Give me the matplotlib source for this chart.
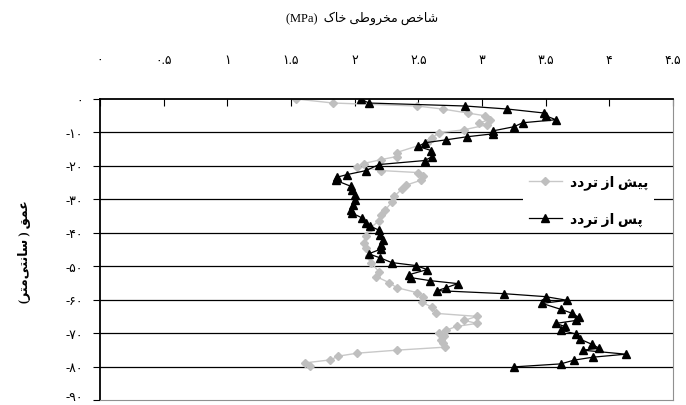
import matplotlib

matplotlib.use("Agg")  # no display
import matplotlib.pyplot as plt

# ---------------------------------------------------------------------------
# Data (cone index in MPa, depth in cm)
# ---------------------------------------------------------------------------

before_x = [1.54, 1.83, 2.49, 2.69, 2.89, 3.02, 3.06, 2.98, 3.04, 2.86,
            2.66, 2.61, 2.57, 2.33, 2.33, 2.21, 2.07, 2.02, 2.21, 2.50,
            2.54, 2.52, 2.40, 2.37, 2.31, 2.29, 2.24, 2.21, 2.19, 2.12,
            2.09, 2.07, 2.09, 2.11, 2.13, 2.19, 2.17, 2.27, 2.33, 2.49,
            2.54, 2.53, 2.61, 2.64, 2.96, 2.86, 2.96, 2.80, 2.72, 2.66,
            2.70, 2.68, 2.69, 2.71, 2.33, 2.02, 1.87, 1.81, 1.61, 1.65]
before_depth = [0.0, -1.2, -2.1, -3.0, -4.2, -5.0, -6.2, -7.1, -7.7, -9.2,
                -10.1, -11.6, -13.1, -16.0, -17.2, -18.1, -19.3, -20.2, -21.4, -22.0,
                -23.1, -24.3, -25.8, -27.0, -29.1, -30.9, -33.2, -34.7, -36.5, -38.6,
                -41.0, -43.0, -44.5, -46.9, -49.0, -51.6, -53.1, -54.9, -56.4, -57.9,
                -59.1, -60.8, -62.3, -64.1, -65.0, -66.2, -67.1, -68.0, -69.1, -70.0,
                -70.9, -72.1, -73.0, -74.2, -75.1, -76.0, -76.9, -78.0, -78.9, -79.8]

after_x = [2.05, 2.11, 2.87, 3.20, 3.49, 3.50, 3.58, 3.32, 3.25, 3.09,
           3.09, 2.88, 2.72, 2.55, 2.50, 2.60, 2.61, 2.55, 2.19, 2.09,
           1.94, 1.86, 1.85, 1.97, 1.98, 2.00, 2.00, 1.99, 1.97, 1.98,
           2.06, 2.09, 2.12, 2.19, 2.20, 2.22, 2.21, 2.21, 2.11, 2.20,
           2.29, 2.48, 2.57, 2.43, 2.44, 2.59, 2.81, 2.72, 2.65, 3.17,
           3.50, 3.67, 3.47, 3.62, 3.71, 3.76, 3.74, 3.58, 3.65, 3.62,
           3.74, 3.77, 3.86, 3.92, 3.79, 4.13, 3.87, 3.72, 3.62, 3.25]
after_depth = [0.0, -1.2, -2.1, -3.0, -4.2, -5.0, -6.2, -7.1, -8.3, -9.5,
               -10.4, -11.3, -12.2, -13.1, -14.2, -15.4, -17.2, -18.4, -19.6, -21.4,
               -22.6, -23.4, -24.3, -26.1, -27.3, -28.8, -30.3, -31.8, -33.2, -34.1,
               -35.6, -37.1, -38.0, -39.2, -40.7, -42.1, -43.6, -44.8, -46.3, -47.5,
               -48.9, -49.8, -51.0, -52.5, -53.4, -54.3, -55.2, -56.4, -57.3, -58.2,
               -59.1, -60.2, -61.1, -62.9, -64.1, -65.3, -66.2, -67.1, -68.0, -69.1,
               -70.3, -71.8, -73.3, -74.5, -75.1, -76.3, -77.2, -78.1, -79.2, -80.1]

x_ticks = [0, 0.5, 1, 1.5, 2, 2.5, 3, 3.5, 4, 4.5]
y_ticks = [0, -10, -20, -30, -40, -50, -60, -70, -80, -90]

title_fa = "شاخص مخروطی خاک"
ylabel_fa = "عمق ( سانتی\u200cمتر)"
label_before = "پیش از تردد"
label_after = "پس از تردد"

# ---------------------------------------------------------------------------
# Minimal Persian shaping (matplotlib does no Arabic joining / RTL)
# ---------------------------------------------------------------------------

# isolated, final, initial, medial  (None = letter does not join forward)
FORMS = {
    "ا": ("\uFE8D", "\uFE8E", None, None),
    "د": ("\uFEA9", "\uFEAA", None, None),
    "ر": ("\uFEAD", "\uFEAE", None, None),
    "ز": ("\uFEAF", "\uFEB0", None, None),
    "و": ("\uFEED", "\uFEEE", None, None),
    "ت": ("\uFE95", "\uFE96", "\uFE97", "\uFE98"),
    "خ": ("\uFEA5", "\uFEA6", "\uFEA7", "\uFEA8"),
    "س": ("\uFEB1", "\uFEB2", "\uFEB3", "\uFEB4"),
    "ش": ("\uFEB5", "\uFEB6", "\uFEB7", "\uFEB8"),
    "ص": ("\uFEB9", "\uFEBA", "\uFEBB", "\uFEBC"),
    "ط": ("\uFEC1", "\uFEC2", "\uFEC3", "\uFEC4"),
    "ع": ("\uFEC9", "\uFECA", "\uFECB", "\uFECC"),
    "ق": ("\uFED5", "\uFED6", "\uFED7", "\uFED8"),
    "م": ("\uFEE1", "\uFEE2", "\uFEE3", "\uFEE4"),
    "ن": ("\uFEE5", "\uFEE6", "\uFEE7", "\uFEE8"),
    "پ": ("\uFB56", "\uFB57", "\uFB58", "\uFB59"),
    "ک": ("\uFB8E", "\uFB8F", "\uFB90", "\uFB91"),
    "ی": ("\uFBFC", "\uFBFD", "\uFBFE", "\uFBFF"),
}


def shape(text):
    out = []
    for i, ch in enumerate(text):
        if ch not in FORMS:
            if ch != "\u200c":
                out.append(ch)
            continue
        prev = text[i - 1] if i > 0 else None
        nxt = text[i + 1] if i + 1 < len(text) else None
        iso, fin, ini, med = FORMS[ch]
        join_prev = prev in FORMS and FORMS[prev][2] is not None
        join_next = ini is not None and nxt in FORMS
        if join_prev and join_next:
            out.append(med)
        elif join_prev:
            out.append(fin)
        elif join_next:
            out.append(ini)
        else:
            out.append(iso)
    mirror = {"(": ")", ")": "("}
    return "".join(mirror.get(c, c) for c in reversed(out))


def fa_num(v):
    return ("%g" % v).translate(str.maketrans("0123456789", "۰۱۲۳۴۵۶۷۸۹"))


FONT = ["Liberation Serif", "DejaVu Sans"]
plt.rcParams["font.family"] = FONT

# ---------------------------------------------------------------------------
# Figure
# ---------------------------------------------------------------------------

fig = plt.figure(figsize=(6.86, 4.06), dpi=100)
ax = fig.add_axes([100 / 686, 1 - 401 / 406, 573 / 686, 301 / 406])

for y in y_ticks[1:-1]:
    ax.axhline(y, color="black", linewidth=0.9, zorder=1)

ax.plot(before_x, before_depth, color="#c8c8c8", linewidth=1.0,
        marker="D", markersize=4.5, markerfacecolor="#bfbfbf",
        markeredgecolor="#bfbfbf", label=shape(label_before), zorder=2)
ax.plot(after_x, after_depth, color="black", linewidth=0.9,
        marker="^", markersize=6, markerfacecolor="black",
        markeredgecolor="black", label=shape(label_after), zorder=3)

ax.set_xlim(0, 4.5)
ax.set_ylim(-90, 0)

ax.xaxis.tick_top()
ax.set_xticks(x_ticks)
ax.set_xticklabels([fa_num(v) for v in x_ticks], fontsize=9)
ax.tick_params(axis="x", direction="in", length=5, pad=24, width=0.8)

# last label (-90) sits on the bottom edge: drawn separately, a bit higher
ax.set_yticks(y_ticks)
ax.set_yticklabels([fa_num(v) for v in y_ticks[:-1]] + [""], fontsize=9)
ax.tick_params(axis="y", direction="out", length=5, pad=7, width=0.8)
fig.text(83 / 686, 1 - 398 / 406, fa_num(y_ticks[-1]),
         ha="right", va="center", fontsize=9)

ax.spines["left"].set_linewidth(1.3)
ax.spines["top"].set_linewidth(1.3)
ax.spines["right"].set_color("#909090")
ax.spines["bottom"].set_color("#909090")

fig.text(362 / 686, 1 - 18 / 406, "(MPa)  " + shape(title_fa),
         ha="center", va="center", fontsize=9)
fig.text(25 / 686, 1 - 252 / 406, shape(ylabel_fa), rotation=90,
         ha="center", va="center", fontsize=9, fontweight="bold")

leg = ax.legend(loc="upper left", bbox_to_anchor=(516 / 686, 1 - 163 / 406),
                bbox_transform=fig.transFigure, frameon=True, fancybox=False,
                handlelength=2.4, handletextpad=0.6, labelspacing=1.6,
                borderpad=0.4, prop={"size": 10, "weight": "bold"})
leg.get_frame().set_facecolor("white")
leg.get_frame().set_edgecolor("none")
leg.get_frame().set_alpha(1)
leg.set_zorder(5)

fig.savefig("out.png", dpi=100)
plt.close(fig)
